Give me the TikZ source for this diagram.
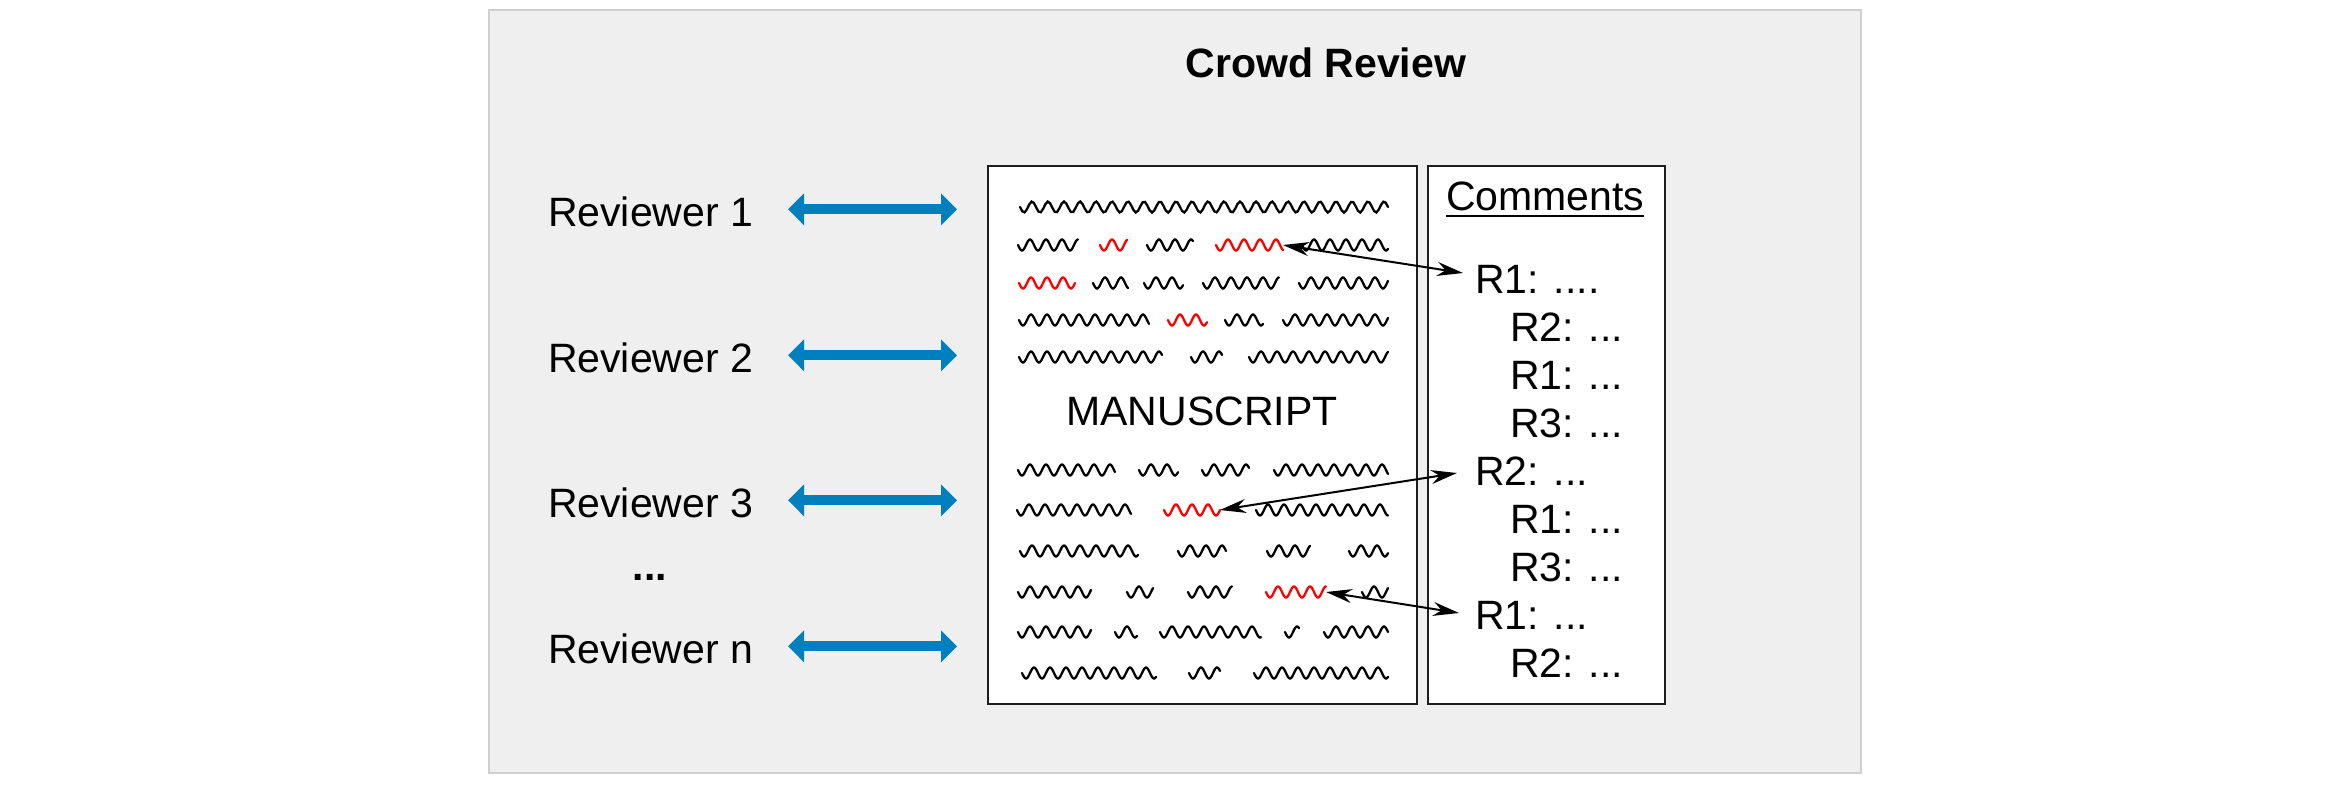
\documentclass[tikz,border=0pt]{standalone}
\usepackage{fontspec}
\setmainfont{Liberation Sans}
\usetikzlibrary{arrows.meta,calc}
\definecolor{bgfill}{HTML}{EFEFEF}
\definecolor{bgline}{HTML}{D0D0D0}
\definecolor{arrowblue}{RGB}{0,127,191}
\definecolor{boxline}{HTML}{1E1E1E}
\newcommand{\wv}[4]{\draw[wavestyle,#4] plot[domain=#1:#2,samples=160] (\x,{#3+5.5*sin((\x-#1)*22.5)});}
\begin{document}
\begin{tikzpicture}[x=0.5pt,y=-0.5pt,
  txt/.style={inner sep=0pt,outer sep=0pt,font=\fontsize{20.5}{24}\selectfont},
  paperbox/.style={draw=boxline,fill=white,line width=1pt,inner sep=0pt,minimum height=269pt},
  wavestyle/.style={line width=1.15pt,line cap=round},
  bluearrow/.style={arrowblue,line width=5pt,{Triangle[width=15.5pt,length=8pt]}-{Triangle[width=15.5pt,length=8pt]}},
  ptr/.style={black,line width=1pt,{Stealth[length=13pt,width=7pt]}-{Stealth[length=13pt,width=7pt]}}]
\useasboundingbox (0,0) rectangle (2352,784);
% outer panel
\draw[fill=bgfill,draw=bgline,line width=1pt] (489,10) rectangle (1861,773);
% title
\node[txt,font=\fontsize{20.5}{24}\selectfont\bfseries,anchor=base] (title) at (1326,77) {Crowd Review};
% boxes
\node[paperbox,minimum width=214.5pt] (ms) at (1202.5,435) {};
\node[paperbox,minimum width=118.5pt] (cm) at (1546.5,435) {};
% manuscript label
\node[txt,anchor=base] (mslabel) at (1202,425) {MANUSCRIPT};
% reviewers
\node[txt,anchor=base west] (r1) at (548,226) {Reviewer 1};
\node[txt,anchor=base west] (r2) at (548,372) {Reviewer 2};
\node[txt,anchor=base west] (r3) at (548,517) {Reviewer 3};
\node[txt,font=\fontsize{20.5}{24}\selectfont\bfseries,anchor=base] (rdots) at (650,580) {...};
\node[txt,anchor=base west] (rn) at (548,663) {Reviewer n};
\foreach \r in {r1,r2,r3,rn}{
  \draw[bluearrow,shorten <=17.5pt,shorten >=15pt] ([yshift=1pt]\r.east) -- ([yshift=1pt]\r.east -| ms.west);
}
% comments
\node[txt,anchor=base west] (chead) at (1446,210) {Comments};
\draw[line width=1.4pt] ([yshift=-3pt]chead.base west) -- ([yshift=-3pt]chead.base east);
\node[txt,anchor=base west] (c0) at (1475,293) {R1: ....};
\node[txt,anchor=base west] (c1) at (1510,341) {R2: ...};
\node[txt,anchor=base west] (c2) at (1510,389) {R1: ...};
\node[txt,anchor=base west] (c3) at (1510,437) {R3: ...};
\node[txt,anchor=base west] (c4) at (1475,485) {R2: ...};
\node[txt,anchor=base west] (c5) at (1510,533) {R1: ...};
\node[txt,anchor=base west] (c6) at (1510,581) {R3: ...};
\node[txt,anchor=base west] (c7) at (1475,629) {R1: ...};
\node[txt,anchor=base west] (c8) at (1510,677) {R2: ...};
% text waves
\wv{1020}{1388}{207}{black}
\foreach \a/\b in {1018/1078,1147/1193,1302/1388} {\wv{\a}{\b}{245}{black}}
\foreach \a/\b in {1100/1127,1216/1283} {\wv{\a}{\b}{245}{red}}
\wv{1019}{1075}{283}{red}
\foreach \a/\b in {1093/1128,1144/1183,1203/1279,1299/1388} {\wv{\a}{\b}{283}{black}}
\foreach \a/\b in {1019/1149,1225/1263,1283/1388} {\wv{\a}{\b}{320}{black}}
\wv{1168}{1207}{320}{red}
\foreach \a/\b in {1019/1162,1191/1222,1249/1388} {\wv{\a}{\b}{357}{black}}
\foreach \a/\b in {1018/1115,1139/1178,1202/1249,1274/1388} {\wv{\a}{\b}{470}{black}}
\foreach \a/\b in {1017/1131,1256/1388} {\wv{\a}{\b}{510}{black}}
\wv{1164}{1220}{510}{red}
\foreach \a/\b in {1020/1138,1178/1226,1267/1310,1349/1388} {\wv{\a}{\b}{551}{black}}
\foreach \a/\b in {1018/1091,1127/1153,1188/1232,1362/1388} {\wv{\a}{\b}{592}{black}}
\wv{1266}{1326}{592}{red}
\foreach \a/\b in {1018/1091,1115/1137,1160/1261,1285/1299,1324/1388} {\wv{\a}{\b}{632}{black}}
\foreach \a/\b in {1022/1156,1189/1220,1254/1388} {\wv{\a}{\b}{673}{black}}
% link points
\coordinate (red1) at (1283,245);
\coordinate (red2) at (1220,510);
\coordinate (red3) at (1326,592);
\draw[ptr] (red1) -- ([shift={(-12,-20)}]c0.base west);
\draw[ptr] (red2) -- ([shift={(-18,-12)}]c4.base west);
\draw[ptr] (red3) -- ([shift={(-16,-16)}]c7.base west);
\end{tikzpicture}
\end{document}
